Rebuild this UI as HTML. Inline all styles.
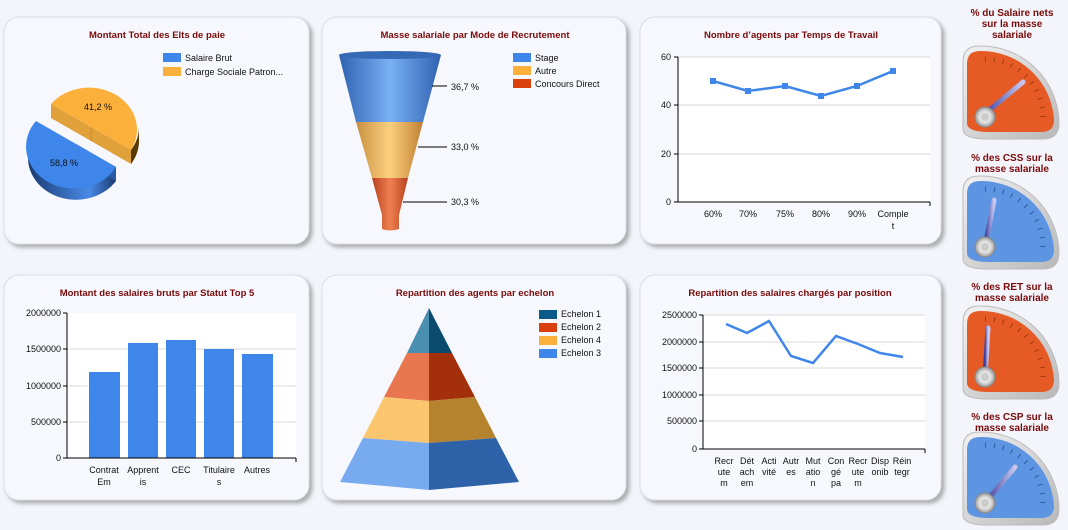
<!DOCTYPE html>
<html><head><meta charset="utf-8"><style>
html,body{margin:0;padding:0;background:#f3f5fb;}
svg{display:block;font-family:"Liberation Sans",sans-serif;}
.t{font-weight:bold;font-size:9.5px;fill:#7a0a0a;text-anchor:middle}
.l{font-size:9px;fill:#111}
.g{stroke:#d8d8d8;stroke-width:1}
.gt{font-weight:bold;font-size:10px;fill:#7a0a0a;text-anchor:middle}
</style></head><body>
<svg width="1068" height="530" viewBox="0 0 1068 530">
<defs>
<filter id="sh" x="-5%" y="-5%" width="115%" height="115%"><feDropShadow dx="3" dy="3" stdDeviation="2" flood-color="#777" flood-opacity="0.6"/></filter>
<linearGradient id="fb" x1="0" x2="1"><stop offset="0" stop-color="#2e62b0"/><stop offset="0.5" stop-color="#7ab0f5"/><stop offset="1" stop-color="#2e62b0"/></linearGradient>
<linearGradient id="fo" x1="0" x2="1"><stop offset="0" stop-color="#c89040"/><stop offset="0.5" stop-color="#fcd080"/><stop offset="1" stop-color="#c08030"/></linearGradient>
<linearGradient id="fr" x1="0" x2="1"><stop offset="0" stop-color="#b84020"/><stop offset="0.5" stop-color="#f08050"/><stop offset="1" stop-color="#b84020"/></linearGradient>
<linearGradient id="pb" x1="0" x2="1"><stop offset="0" stop-color="#1a3a70"/><stop offset="0.7" stop-color="#4a8ae8"/><stop offset="1" stop-color="#1a3a70"/></linearGradient>
<linearGradient id="sil" x1="0" y1="0" x2="1" y2="1"><stop offset="0" stop-color="#f2f2f2"/><stop offset="1" stop-color="#b8b8b8"/></linearGradient>
<linearGradient id="nd" x1="0" x2="1"><stop offset="0" stop-color="#3a3a9a"/><stop offset="1" stop-color="#c8c8f0"/></linearGradient>
<radialGradient id="pv"><stop offset="0" stop-color="#fff"/><stop offset="0.6" stop-color="#ddd"/><stop offset="1" stop-color="#999"/></radialGradient>
</defs>

<g filter="url(#sh)" fill="#f7f8fd" stroke="#dcdde4">
<rect x="4" y="17" width="305" height="227" rx="15"/>
<rect x="322" y="17" width="304" height="227" rx="15"/>
<rect x="640" y="17" width="301" height="227" rx="15"/>
<rect x="4" y="275" width="305" height="225" rx="15"/>
<rect x="322" y="275" width="304" height="225" rx="15"/>
<rect x="640" y="275" width="301" height="225" rx="15"/>
</g>

<!-- Pie -->
<text class="t" x="157" y="38">Montant Total des Elts de paie</text>
<rect x="163" y="53" width="18" height="9" fill="#3f86ea"/><text class="l" x="185" y="61">Salaire Brut</text>
<rect x="163" y="67" width="18" height="9" fill="#fbb03b"/><text class="l" x="185" y="75">Charge  Sociale Patron...</text>
<g>
<path d="M28,144 A48,42 0 0 0 116,167 L116,181 A48,42 0 0 1 28,158 Z" fill="url(#pb)"/>
<path d="M76,144 L116,167 L116,181 L76,158Z" fill="#2a5aa8"/>
<path d="M76,144 L116,167 A48,42 0 1 1 36,121 Z" fill="#3f86ea"/>
<path d="M139,127 A48,42 0 0 1 131,150 L131,164 A48,42 0 0 0 139,141Z" fill="#5a3a00"/>
<path d="M51,104 L131,150 L131,164 L51,118Z" fill="#e0a03a"/>
<line x1="91" y1="127" x2="91" y2="141" stroke="#c88a2a"/>
<path d="M91,127 L51,104 A48,42 0 0 1 131,150 Z" fill="#fbb03b"/>
<text class="l" x="84" y="110">41,2 %</text>
<text class="l" x="50" y="166">58,8 %</text>
</g>

<!-- Funnel -->
<text class="t" x="475" y="38">Masse salariale par Mode de Recrutement</text>
<path d="M339,55 L441,55 L423,122 L356,122Z" fill="url(#fb)"/>
<ellipse cx="390" cy="55" rx="51" ry="4" fill="#3568b5"/>
<path d="M356,122 L423,122 L408,178 L372,178Z" fill="url(#fo)"/>
<path d="M372,178 L408,178 L399,215 L399,229 Q390,232 382,229 L382,215Z" fill="url(#fr)"/>
<g stroke="#000" stroke-width="1"><line x1="432" y1="86" x2="447" y2="86"/><line x1="418" y1="147" x2="447" y2="147"/><line x1="403" y1="202" x2="447" y2="202"/></g>
<text class="l" x="451" y="90">36,7 %</text><text class="l" x="451" y="150">33,0 %</text><text class="l" x="451" y="205">30,3 %</text>
<rect x="513" y="53" width="18" height="9" fill="#3f86ea"/><text class="l" x="535" y="61">Stage</text>
<rect x="513" y="66" width="18" height="9" fill="#fbb03b"/><text class="l" x="535" y="74">Autre</text>
<rect x="513" y="79" width="18" height="9" fill="#d9400e"/><text class="l" x="535" y="87">Concours Direct</text>

<!-- Line chart 1 -->
<text class="t" x="791" y="38">Nombre d’agents par Temps de Travail</text>
<rect x="678" y="57" width="252" height="145" fill="#fff"/>
<g class="g"><line x1="678" y1="57" x2="930" y2="57"/><line x1="678" y1="105" x2="930" y2="105"/><line x1="678" y1="154" x2="930" y2="154"/></g>
<g stroke="#000"><line x1="678" y1="57" x2="678" y2="202"/><line x1="678" y1="202" x2="930" y2="202"/><line x1="930" y1="202" x2="930" y2="206"/><line x1="674" y1="57" x2="678" y2="57"/><line x1="674" y1="105" x2="678" y2="105"/><line x1="674" y1="154" x2="678" y2="154"/><line x1="674" y1="202" x2="678" y2="202"/></g>
<g class="l" text-anchor="end"><text x="671" y="60">60</text><text x="671" y="108">40</text><text x="671" y="157">20</text><text x="671" y="205">0</text></g>
<polyline points="713,81 748,91 785,86 821,96 857,86 893,71" fill="none" stroke="#3f86ea" stroke-width="2.5"/>
<g fill="#3f86ea"><rect x="710" y="78" width="6" height="6"/><rect x="745" y="88" width="6" height="6"/><rect x="782" y="83" width="6" height="6"/><rect x="818" y="93" width="6" height="6"/><rect x="854" y="83" width="6" height="6"/><rect x="890" y="68" width="6" height="6"/></g>
<g class="l" text-anchor="middle"><text x="713" y="217">60%</text><text x="748" y="217">70%</text><text x="785" y="217">75%</text><text x="821" y="217">80%</text><text x="857" y="217">90%</text><text x="893" y="217">Comple</text><text x="893" y="229">t</text></g>

<!-- Bar chart -->
<text class="t" x="157" y="296">Montant des salaires bruts par Statut Top 5</text>
<rect x="67" y="313" width="229" height="145" fill="#fff"/>
<g class="g"><line x1="67" y1="349" x2="296" y2="349"/><line x1="67" y1="386" x2="296" y2="386"/><line x1="67" y1="422" x2="296" y2="422"/></g>
<g fill="#3f86ea"><rect x="89" y="372" width="31" height="86"/><rect x="128" y="343" width="30" height="115"/><rect x="166" y="340" width="30" height="118"/><rect x="204" y="349" width="30" height="109"/><rect x="242" y="354" width="31" height="104"/></g>
<g stroke="#000"><line x1="67" y1="313" x2="67" y2="458"/><line x1="67" y1="458" x2="296" y2="458"/><line x1="296" y1="458" x2="296" y2="462"/><line x1="63" y1="313" x2="67" y2="313"/><line x1="63" y1="349" x2="67" y2="349"/><line x1="63" y1="386" x2="67" y2="386"/><line x1="63" y1="422" x2="67" y2="422"/><line x1="63" y1="458" x2="67" y2="458"/></g>
<g class="l" text-anchor="end"><text x="61" y="316">2000000</text><text x="61" y="352">1500000</text><text x="61" y="389">1000000</text><text x="61" y="425">500000</text><text x="61" y="461">0</text></g>
<g class="l" text-anchor="middle"><text x="104" y="473">Contrat</text><text x="104" y="485">Em</text><text x="143" y="473">Apprent</text><text x="143" y="485">is</text><text x="181" y="473">CEC</text><text x="219" y="473">Titulaire</text><text x="219" y="485">s</text><text x="257" y="473">Autres</text></g>

<!-- Pyramid -->
<text class="t" x="475" y="296">Repartition des agents par echelon</text>
<path d="M429,308 L407,353 L429,353Z" fill="#4a8fb0"/><path d="M429,308 L452,353 L429,353Z" fill="#0a4a6e"/>
<path d="M407,353 L429,353 L429,401 L384,397Z" fill="#e8764f"/><path d="M452,353 L429,353 L429,401 L475,397Z" fill="#a3300a"/>
<path d="M384,397 L429,401 L429,443 L363,438Z" fill="#fcc66e"/><path d="M475,397 L429,401 L429,443 L496,438Z" fill="#b5822e"/>
<path d="M363,438 L429,443 L429,490 L340,482Z" fill="#78aaf0"/><path d="M496,438 L429,443 L429,490 L519,482Z" fill="#2e62a8"/>
<rect x="539" y="310" width="18" height="9" fill="#0a5a8a"/><text class="l" x="561" y="317">Echelon 1</text>
<rect x="539" y="323" width="18" height="9" fill="#d9400e"/><text class="l" x="561" y="330">Echelon 2</text>
<rect x="539" y="336" width="18" height="9" fill="#fbb03b"/><text class="l" x="561" y="343">Echelon 4</text>
<rect x="539" y="349" width="18" height="9" fill="#3f86ea"/><text class="l" x="561" y="356">Echelon 3</text>

<!-- Line chart 2 -->
<text class="t" x="790" y="296">Repartition des salaires chargés par position</text>
<rect x="703" y="315" width="222" height="134" fill="#fff"/>
<g class="g"><line x1="703" y1="315" x2="925" y2="315"/><line x1="703" y1="342" x2="925" y2="342"/><line x1="703" y1="368" x2="925" y2="368"/><line x1="703" y1="395" x2="925" y2="395"/><line x1="703" y1="421" x2="925" y2="421"/></g>
<g stroke="#000"><line x1="703" y1="315" x2="703" y2="449"/><line x1="703" y1="449" x2="925" y2="449"/><line x1="925" y1="449" x2="925" y2="453"/><line x1="699" y1="315" x2="703" y2="315"/><line x1="699" y1="342" x2="703" y2="342"/><line x1="699" y1="368" x2="703" y2="368"/><line x1="699" y1="395" x2="703" y2="395"/><line x1="699" y1="421" x2="703" y2="421"/><line x1="699" y1="449" x2="703" y2="449"/></g>
<g class="l" text-anchor="end"><text x="697" y="318">2500000</text><text x="697" y="345">2000000</text><text x="697" y="371">1500000</text><text x="697" y="398">1000000</text><text x="697" y="424">500000</text><text x="697" y="452">0</text></g>
<polyline points="726,324 747,333 769,321 791,356 813,363 836,336 858,344 880,353 903,357" fill="none" stroke="#3f86ea" stroke-width="2.5"/>
<g class="l" text-anchor="middle">
<text x="724" y="464">Recr</text><text x="724" y="475">ute</text><text x="724" y="486">m</text>
<text x="747" y="464">Dét</text><text x="747" y="475">ach</text><text x="747" y="486">em</text>
<text x="769" y="464">Acti</text><text x="769" y="475">vité</text>
<text x="791" y="464">Autr</text><text x="791" y="475">es</text>
<text x="813" y="464">Mut</text><text x="813" y="475">atio</text><text x="813" y="486">n</text>
<text x="836" y="464">Con</text><text x="836" y="475">gé</text><text x="836" y="486">pa</text>
<text x="858" y="464">Recr</text><text x="858" y="475">ute</text><text x="858" y="486">m</text>
<text x="880" y="464">Disp</text><text x="880" y="475">onib</text>
<text x="902" y="464">Réin</text><text x="902" y="475">tegr</text>
</g>

<!-- Gauges -->
<text class="gt" x="1012" y="16">% du Salaire nets</text><text class="gt" x="1012" y="27">sur la masse</text><text class="gt" x="1012" y="38">salariale</text>
<text class="gt" x="1012" y="161">% des CSS sur la</text><text class="gt" x="1012" y="172">masse salariale</text>
<text class="gt" x="1012" y="290">% des RET sur la</text><text class="gt" x="1012" y="301">masse salariale</text>
<text class="gt" x="1012" y="420">% des CSP sur la</text><text class="gt" x="1012" y="431">masse salariale</text>

<g transform="translate(985,117)">
<path d="M-22,12 L-22,-55 Q-22,-71 -6,-71 A78 78 0 0 1 74,6 Q74,22 58,22 L2,22 Q-22,22 -22,12Z" fill="url(#sil)" stroke="#bbb"/>
<path d="M-18,6 L-18,-53 Q-18,-66 -5,-66 A73 73 0 0 1 69,3 Q69,15 56,15 L4,15 Q-18,15 -18,6Z" fill="#e55a25"/>
<path d="M0,-58 A58 58 0 0 1 58,0" fill="none" stroke="#a03a10" stroke-dasharray="1,8" stroke-width="5"/>
<line x1="-4" y1="0" x2="38" y2="-35" stroke="url(#nd)" stroke-width="5" stroke-linecap="round"/>
<circle r="10" fill="url(#pv)" stroke="#888"/><circle r="4" fill="#ccc"/>
</g>
<g transform="translate(985,247)">
<path d="M-22,12 L-22,-55 Q-22,-71 -6,-71 A78 78 0 0 1 74,6 Q74,22 58,22 L2,22 Q-22,22 -22,12Z" fill="url(#sil)" stroke="#bbb"/>
<path d="M-18,6 L-18,-53 Q-18,-66 -5,-66 A73 73 0 0 1 69,3 Q69,15 56,15 L4,15 Q-18,15 -18,6Z" fill="#5d95e2"/>
<path d="M0,-58 A58 58 0 0 1 58,0" fill="none" stroke="#2a5aa0" stroke-dasharray="1,8" stroke-width="5"/>
<line x1="0" y1="0" x2="9" y2="-47" stroke="url(#nd)" stroke-width="5" stroke-linecap="round"/>
<circle r="10" fill="url(#pv)" stroke="#888"/><circle r="4" fill="#ccc"/>
</g>
<g transform="translate(985,377)">
<path d="M-22,12 L-22,-55 Q-22,-71 -6,-71 A78 78 0 0 1 74,6 Q74,22 58,22 L2,22 Q-22,22 -22,12Z" fill="url(#sil)" stroke="#bbb"/>
<path d="M-18,6 L-18,-53 Q-18,-66 -5,-66 A73 73 0 0 1 69,3 Q69,15 56,15 L4,15 Q-18,15 -18,6Z" fill="#e55a25"/>
<path d="M0,-58 A58 58 0 0 1 58,0" fill="none" stroke="#a03a10" stroke-dasharray="1,8" stroke-width="5"/>
<line x1="0" y1="0" x2="3" y2="-49" stroke="url(#nd)" stroke-width="5" stroke-linecap="round"/>
<circle r="10" fill="url(#pv)" stroke="#888"/><circle r="4" fill="#ccc"/>
</g>
<g transform="translate(985,503)">
<path d="M-22,12 L-22,-55 Q-22,-71 -6,-71 A78 78 0 0 1 74,6 Q74,22 58,22 L2,22 Q-22,22 -22,12Z" fill="url(#sil)" stroke="#bbb"/>
<path d="M-18,6 L-18,-53 Q-18,-66 -5,-66 A73 73 0 0 1 69,3 Q69,15 56,15 L4,15 Q-18,15 -18,6Z" fill="#5d95e2"/>
<path d="M0,-58 A58 58 0 0 1 58,0" fill="none" stroke="#2a5aa0" stroke-dasharray="1,8" stroke-width="5"/>
<line x1="0" y1="0" x2="30" y2="-36" stroke="url(#nd)" stroke-width="5" stroke-linecap="round"/>
<circle r="10" fill="url(#pv)" stroke="#888"/><circle r="4" fill="#ccc"/>
</g>
</svg>
</body></html>
